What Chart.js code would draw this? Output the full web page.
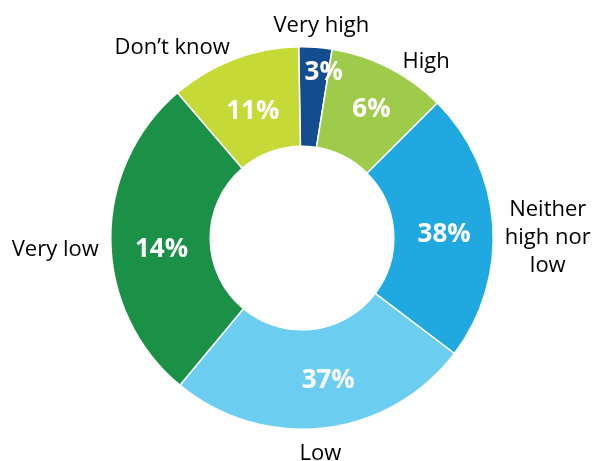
<!DOCTYPE html>
<html>
<head>
<meta charset="utf-8">
<script src="https://cdn.jsdelivr.net/npm/chart.js@4.4.1/dist/chart.umd.min.js"></script>
<style>
  html, body { margin: 0; padding: 0; background: #ffffff; }
  #wrap { width: 592px; height: 461px; position: relative; }
</style>
</head>
<body>
<div id="wrap"><canvas id="graficoDona"></canvas></div>
<script>
// categorias en el sentido de las agujas del reloj, empezando arriba
const categorias = ['Very high', 'High', 'Neither high nor low', 'Low', 'Very low', 'Don\u2019t know'];
// lineas del texto exterior
const etiquetas = [['Very high'], ['High'], ['Neither', 'high nor', 'low'], ['Low'], ['Very low'], ['Don\u2019t know']];
// tamano de cada segmento
const valores = [2.8, 10.0, 22.8, 25.7, 27.7, 11.0];
// porcentajes impresos dentro del anillo
const porcentajes = ['3%', '6%', '38%', '37%', '14%', '11%'];
const colores = ['#134D8F', '#9FCB4A', '#1FA9E0', '#6BCEF0', '#1B9148', '#C5D937'];

// pequenos ajustes de texto (px) para imitar el original
const ajustePct = [[0, 0], [5, -2], [1, 6], [10, 2], [1, 10], [1, 6]];
const ajusteEtq = [[5, 2], [8, 5], [0, 0], [-5, 2], [0, 10], [0, 0]];

// dibuja los porcentajes y las etiquetas exteriores
const etiquetasPlugin = {
    id: 'etiquetasPlugin',
    afterDatasetsDraw(chart) {
        const ctx = chart.ctx;
        const meta = chart.getDatasetMeta(0);
        meta.data.forEach((arc, i) => {
            const p = arc.getProps(['x', 'y', 'startAngle', 'endAngle', 'innerRadius', 'outerRadius'], true);
            const mid = (p.startAngle + p.endAngle) / 2;
            const cos = Math.cos(mid);
            const sin = Math.sin(mid);

            // porcentaje en el medio del anillo
            let r = (p.innerRadius + p.outerRadius) / 2;
            let ang = mid;
            if (i === 0) { r = p.outerRadius - 24; ang = mid + 0.06; } // el 3% va un poco afuera
            ctx.save();
            ctx.fillStyle = '#ffffff';
            ctx.font = 'bold 26px "Open Sans"';
            ctx.textAlign = 'center';
            ctx.textBaseline = 'middle';
            ctx.fillText(porcentajes[i],
                p.x + Math.cos(ang) * r + ajustePct[i][0],
                p.y + Math.sin(ang) * r + ajustePct[i][1]);
            ctx.restore();

            // etiqueta de categoria fuera del anillo
            const ro = p.outerRadius + 12;
            const lx = p.x + cos * ro + ajusteEtq[i][0];
            const ly = p.y + sin * ro + ajusteEtq[i][1];
            const lineas = etiquetas[i];
            const alto = 28;
            ctx.save();
            ctx.fillStyle = '#000000';
            ctx.font = '500 22px "Open Sans"';
            ctx.textBaseline = 'middle';
            let align = 'center';
            if (cos > 0.3) align = 'left';
            else if (cos < -0.3) align = 'right';
            ctx.textAlign = align;
            let cy = ly;
            if (align === 'center') cy = ly + (sin < 0 ? -12 : 12);
            if (i === 2) cy = ly + 13;
            const y0 = cy - (lineas.length - 1) * alto / 2;
            lineas.forEach((t, k) => {
                let tx = lx;
                if (lineas.length > 1 && align === 'left') {
                    // lineas centradas entre si
                    const w = Math.max(...lineas.map(s => ctx.measureText(s).width));
                    ctx.textAlign = 'center';
                    tx = lx + w / 2;
                }
                ctx.fillText(t, tx, y0 + k * alto);
            });
            ctx.restore();
        });
    }
};

const ctx = document.getElementById('graficoDona').getContext('2d');
new Chart(ctx, {
    type: 'doughnut',
    data: {
        labels: categorias,
        datasets: [{
            data: valores,
            backgroundColor: colores,
            borderColor: '#ffffff',
            borderWidth: 1.5
        }]
    },
    options: {
        responsive: true,
        maintainAspectRatio: false,
        animation: false,
        rotation: -1,
        cutout: '48%',
        layout: {
            padding: { top: 46, bottom: 31, left: 110, right: 98 }
        },
        plugins: {
            legend: { display: false },
            tooltip: { enabled: false }
        }
    },
    plugins: [etiquetasPlugin]
});
</script>
</body>
</html>
